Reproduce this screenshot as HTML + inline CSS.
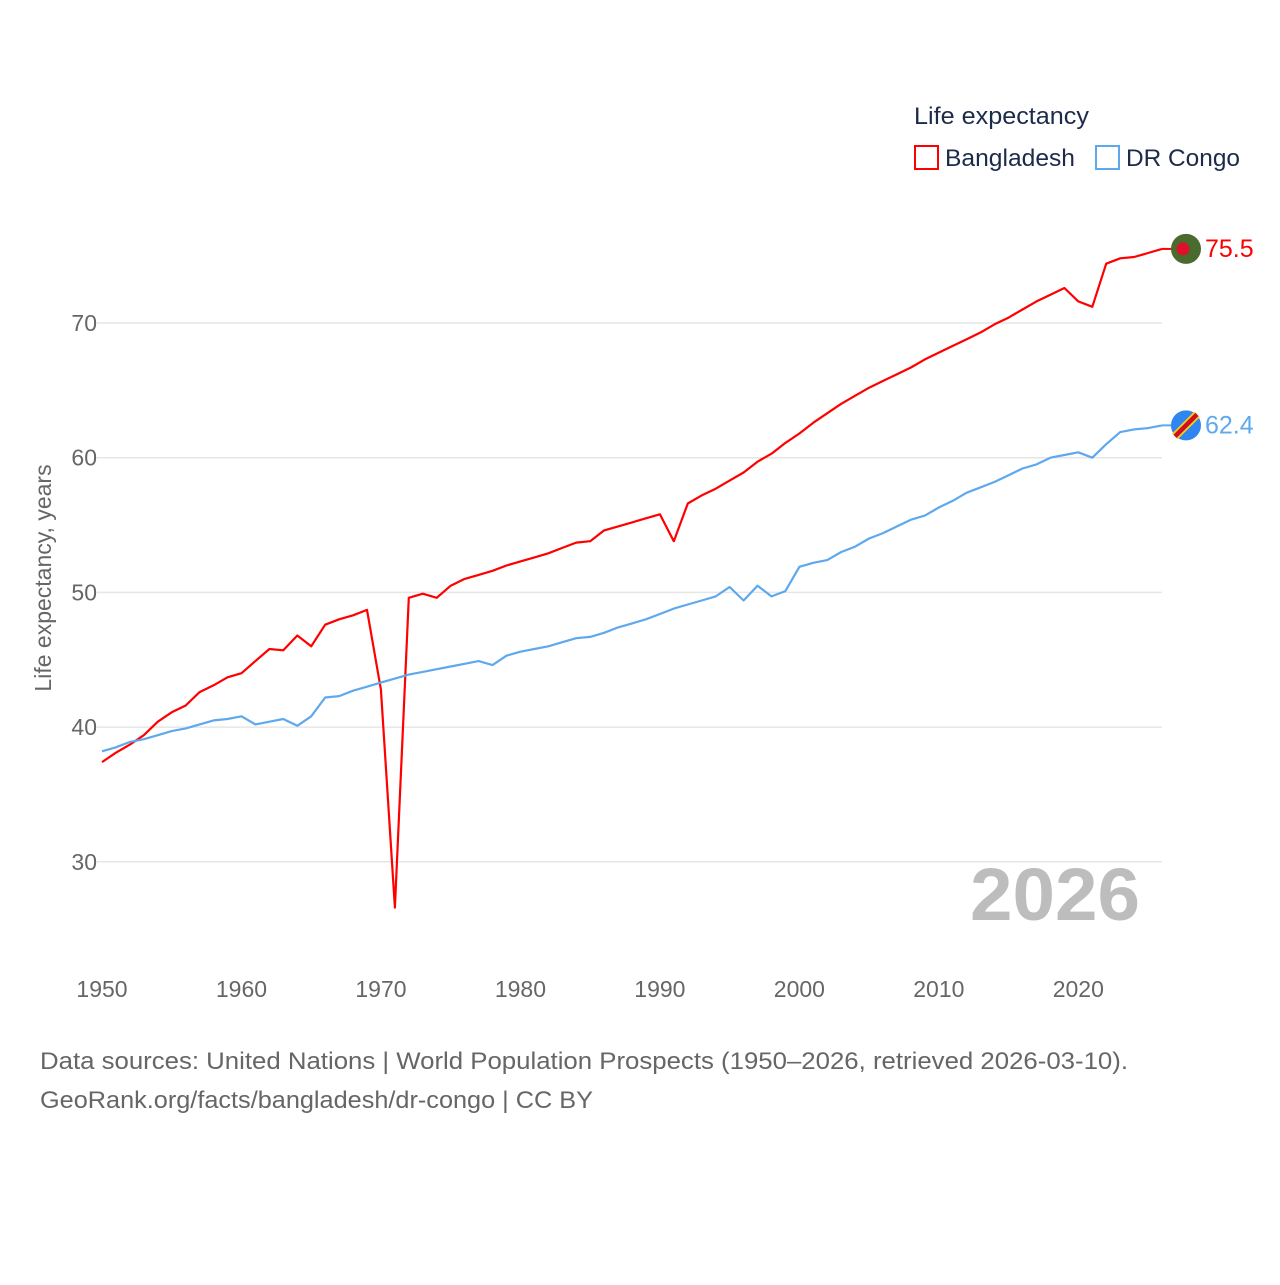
<!DOCTYPE html>
<html><head><meta charset="utf-8"><style>
body{margin:0;background:#fff;width:1280px;height:1280px;overflow:hidden;font-family:"Liberation Sans",sans-serif}
</style></head><body>
<svg width="1280" height="1280" font-family="Liberation Sans, sans-serif">
<g id="grid"></g>
<g id="yticks"></g>
<g id="xticks"></g>
<text transform="translate(51,578) rotate(-90)" text-anchor="middle" font-size="23" fill="#666">Life expectancy, years</text>
<text x="1140" y="920" text-anchor="end" font-size="74" font-weight="bold" fill="#bdbdbd" textLength="170" lengthAdjust="spacingAndGlyphs">2026</text>
<g id="series"></g>
<g>
<text x="914" y="124" font-size="24" fill="#1c2b4a" textLength="175" lengthAdjust="spacingAndGlyphs">Life expectancy</text>
<rect x="915" y="146" width="23" height="23" fill="none" stroke="#ff0000" stroke-width="2"/>
<text x="945" y="166" font-size="24" fill="#1c2b4a" textLength="130" lengthAdjust="spacingAndGlyphs">Bangladesh</text>
<rect x="1096" y="146" width="23" height="23" fill="none" stroke="#5ea8ee" stroke-width="2"/>
<text x="1126" y="166" font-size="24" fill="#1c2b4a" textLength="114" lengthAdjust="spacingAndGlyphs">DR Congo</text>
</g>
<text x="40" y="1069" font-size="24" fill="#666" textLength="1088" lengthAdjust="spacingAndGlyphs">Data sources: United Nations | World Population Prospects (1950–2026, retrieved 2026-03-10).</text>
<text x="40" y="1108" font-size="24" fill="#666" textLength="553" lengthAdjust="spacingAndGlyphs">GeoRank.org/facts/bangladesh/dr-congo | CC BY</text>
</svg>
<script>
const years=[];for(let y=1950;y<=2026;y++)years.push(y);
const bangladesh=[37.4,38.1,38.7,39.4,40.4,41.1,41.6,42.6,43.1,43.7,44.0,44.9,45.8,45.7,46.8,46.0,47.6,48.0,48.3,48.7,42.8,26.6,49.6,49.9,49.6,50.5,51.0,51.3,51.6,52.0,52.3,52.6,52.9,53.3,53.7,53.8,54.6,54.9,55.2,55.5,55.8,53.8,56.6,57.2,57.7,58.3,58.9,59.7,60.3,61.1,61.8,62.6,63.3,64.0,64.6,65.2,65.7,66.2,66.7,67.3,67.8,68.3,68.8,69.3,69.9,70.4,71.0,71.6,72.1,72.6,71.6,71.2,74.4,74.8,74.9,75.2,75.5];
const drCongo=[38.2,38.5,38.9,39.1,39.4,39.7,39.9,40.2,40.5,40.6,40.8,40.2,40.4,40.6,40.1,40.8,42.2,42.3,42.7,43.0,43.3,43.6,43.9,44.1,44.3,44.5,44.7,44.9,44.6,45.3,45.6,45.8,46.0,46.3,46.6,46.7,47.0,47.4,47.7,48.0,48.4,48.8,49.1,49.4,49.7,50.4,49.4,50.5,49.7,50.1,51.9,52.2,52.4,53.0,53.4,54.0,54.4,54.9,55.4,55.7,56.3,56.8,57.4,57.8,58.2,58.7,59.2,59.5,60.0,60.2,60.4,60.0,61.0,61.9,62.1,62.2,62.4];
const yTicks=[30,40,50,60,70];
const xTicks=[1950,1960,1970,1980,1990,2000,2010,2020];
const NS="http://www.w3.org/2000/svg";
const X=v=>102+(v-1950)*(1162-102)/76;
const Y=v=>323+(70-v)*13.47;
function mk(tag,attrs,parent,txt){const e=document.createElementNS(NS,tag);for(const k in attrs)e.setAttribute(k,attrs[k]);if(txt!==undefined)e.textContent=txt;document.getElementById(parent).appendChild(e);return e;}
yTicks.forEach(t=>{
 const l=mk('line',{x1:97,x2:1162,y1:Y(t),y2:Y(t),stroke:'#e6e6e6','stroke-width':1.5},'grid');
 
 
 const tx=mk('text',{x:97,y:Y(t)+8,'text-anchor':'end','font-size':23,fill:'#666'},'yticks',t);
 
 
});
xTicks.forEach(t=>{
 const tx=mk('text',{x:X(t),y:997,'text-anchor':'middle','font-size':23,fill:'#666'},'xticks',t);
 
 
});
function line(vals,color,name){
 const d=vals.map((v,i)=>(i?'L':'M')+X(years[i]).toFixed(1)+','+Y(v).toFixed(1)).join('');
 const p=mk('path',{d:d,fill:'none',stroke:color,'stroke-width':2.2,'stroke-linejoin':'round'},'series');
 
 
 const last=vals[vals.length-1];
 const y=Y(last);
 const c=mk('line',{x1:X(2026),x2:1172,y1:y,y2:y,stroke:color,'stroke-width':2},'series');
 
 
 const lb=mk('text',{x:1205,y:y+8,'font-size':25,fill:color},'series',last.toFixed(1));
 
 
 return y;
}
const yb=line(bangladesh,'#ff0000','bangladesh');
const yc=line(drCongo,'#5ea8ee','dr-congo');
let f=mk('circle',{cx:1186,cy:yb,r:15,fill:'#4a6b2e'},'series');


f=mk('circle',{cx:1183,cy:yb,r:6.5,fill:'#e0102a'},'series');


f=mk('circle',{cx:1186,cy:yc,r:15,fill:'#2f86f0'},'series');


f=mk('line',{x1:1175,y1:yc+11,x2:1197,y2:yc-11,stroke:'#f7d116','stroke-width':8},'series');


f=mk('line',{x1:1175,y1:yc+11,x2:1197,y2:yc-11,stroke:'#ce1021','stroke-width':4.5},'series');


</script>
</body></html>
